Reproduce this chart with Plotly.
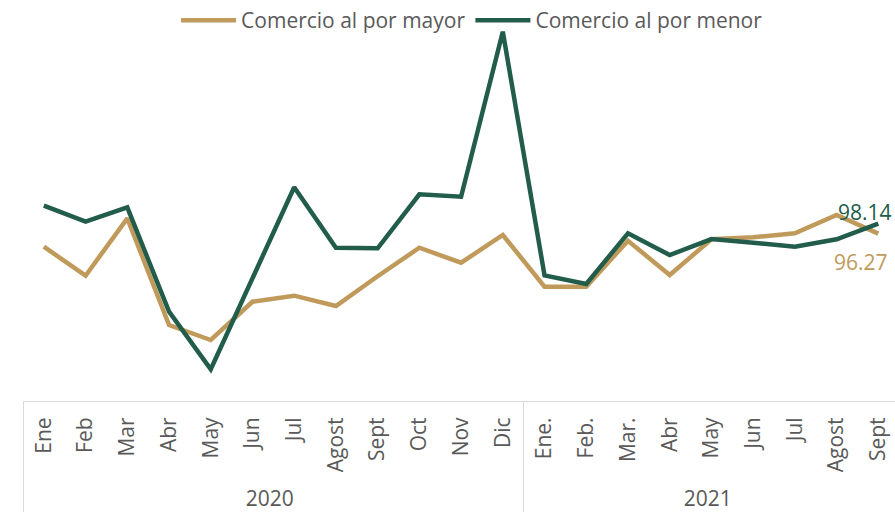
import plotly.graph_objects as go

years = ["2020"] * 12 + ["2021"] * 9
months = ["Ene", "Feb", "Mar", "Abr", "May", "Jun", "Jul", "Agost", "Sept", "Oct", "Nov", "Dic",
          "Ene.", "Feb.", "Mar.", "Abr", "May", "Jun", "Jul", "Agost", "Sept"]

mayor = [93.80, 88.33, 99.16, 79.03, 76.20, 83.42, 84.56, 82.61, 88.22, 93.61, 90.78, 96.01,
         86.25, 86.25, 94.93, 88.46, 95.20, 95.57, 96.33, 99.78, 96.27]
menor = [101.54, 98.52, 101.23, 81.54, 70.67, 87.95, 105.01, 93.61, 93.50, 103.69, 103.23, 134.37,
         88.40, 86.76, 96.33, 92.23, 95.25, 94.56, 93.80, 95.20, 98.14]

TAN = "#C09A5B"
GREEN = "#225C4B"
GREY = "#595959"
FONT = "Open Sans"

# Month names repeat across years; a zero-width space keeps each (year, month)
# label unique so plotly keeps the chronological order within each year.
seen = set()
month_keys = []
for m in months:
    k = m
    while k in seen:
        k = k + "\u200b"
    seen.add(k)
    month_keys.append(k)

x = [years, month_keys]

fig = go.Figure()
fig.add_trace(go.Scatter(x=x, y=mayor, mode="lines", name="Comercio al por mayor",
                         line=dict(color=TAN, width=4.5)))
fig.add_trace(go.Scatter(x=x, y=menor, mode="lines", name="Comercio al por menor",
                         line=dict(color=GREEN, width=4.5)))

fig.add_annotation(x=[years[-1], month_keys[-1]], y=menor[-1], text=f"{menor[-1]:.2f}",
                   showarrow=False, xshift=-13, yshift=12,
                   font=dict(family=FONT, size=21, color=GREEN))
fig.add_annotation(x=[years[-1], month_keys[-1]], y=mayor[-1], text=f"{mayor[-1]:.2f}",
                   showarrow=False, xshift=-17, yshift=-28,
                   font=dict(family=FONT, size=21, color=TAN))

fig.update_layout(
    width=895, height=512,
    margin=dict(l=23, r=0, t=0, b=111),
    paper_bgcolor="white", plot_bgcolor="white",
    font=dict(family=FONT, color=GREY, size=21),
    showlegend=True,
    hovermode=False,
    legend=dict(orientation="h", x=0.515, xanchor="center", y=0.95, yanchor="middle",
                font=dict(family=FONT, size=21, color=GREY), itemwidth=55,
                bgcolor="rgba(0,0,0,0)"),
)
fig.update_xaxes(type="multicategory", range=[-0.5, 20.4], showline=True, linecolor="#D9D9D9",
                 linewidth=1, showgrid=False, tickangle=-90,
                 ticks="", ticklabelstandoff=7,
                 showdividers=True, dividercolor="#D9D9D9", dividerwidth=1,
                 tickfont=dict(family=FONT, size=21, color=GREY), automargin=False)
fig.update_yaxes(visible=False, range=[64.69, 140.35], showgrid=False, zeroline=False)

fig.write_html("out.html", config={"displayModeBar": False},
               post_script="document.body.style.margin='0';")
